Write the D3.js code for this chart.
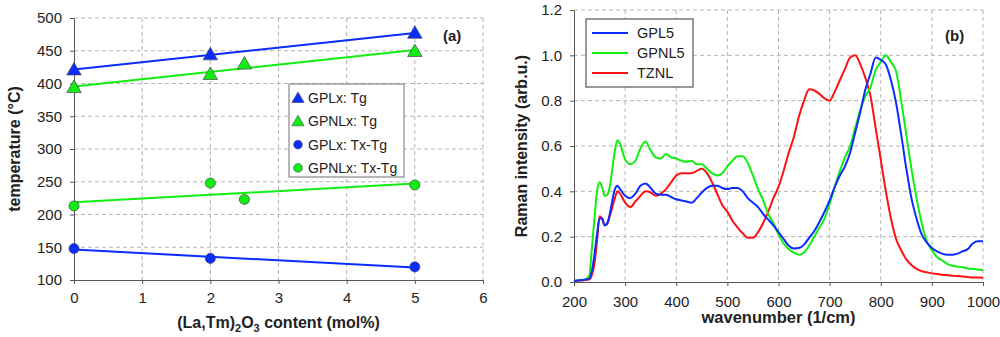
<!DOCTYPE html>
<html>
<head>
<meta charset="utf-8">
<script src="https://cdn.jsdelivr.net/npm/d3@7"></script>
<style>
  body { margin: 0; background: #fff; }
  svg { font-family: "Liberation Sans", Arial, sans-serif; }
  .grid line { stroke: #b4b4b4; stroke-dasharray: 4,3; }
  .axis path, .axis line { stroke: #555; }
  .axis text { font-size: 15px; fill: #222; }
</style>
</head>
<body>
<div id="chart"></div>
<script>
// ---- panel (a): glass temperatures vs (La,Tm)2O3 content ----
const gplX = [0, 2, 5];
const gplTg = [421, 444, 477];
const gplTxTg = [148, 133, 120];
const gpnlX = [0, 2, 2.5, 5];
const gpnlTg = [394, 414, 430, 449];
const gpnlTxTg = [213, 248, 223, 245];
const tempTicks = [100, 150, 200, 250, 300, 350, 400, 450, 500];
const contentTicks = [0, 1, 2, 3, 4, 5, 6];

// ---- panel (b): Raman spectra ----
const wavenumber = [200, 210, 220, 230, 235, 240, 245, 250, 255, 260, 265, 270, 275, 280, 285, 290,
  300, 310, 320, 330, 340, 350, 360, 370, 380, 390, 400, 410, 420, 430, 440, 450, 460, 470, 480, 490,
  500, 510, 520, 530, 540, 550, 560, 570, 580, 590, 600, 610, 620, 630, 640, 650, 660, 670, 680, 690,
  700, 710, 720, 730, 740, 750, 760, 770, 780, 790, 800, 810, 820, 830, 840, 850, 860, 870, 880, 890,
  900, 910, 920, 930, 940, 950, 960, 970, 980, 990, 1000];
const gpl5 = [0.005, 0.008, 0.01, 0.015, 0.05, 0.12, 0.21, 0.28, 0.28, 0.25, 0.26, 0.30, 0.36, 0.41, 0.425, 0.41,
  0.38, 0.37, 0.39, 0.425, 0.435, 0.415, 0.39, 0.385, 0.385, 0.375, 0.365, 0.36, 0.355, 0.35, 0.37, 0.395, 0.415, 0.425, 0.425, 0.415,
  0.41, 0.415, 0.415, 0.40, 0.37, 0.35, 0.33, 0.30, 0.275, 0.25, 0.22, 0.19, 0.16, 0.148, 0.15, 0.165, 0.195, 0.225, 0.265, 0.31,
  0.36, 0.42, 0.47, 0.51, 0.57, 0.66, 0.75, 0.85, 0.92, 0.99, 0.98, 0.96, 0.89, 0.79, 0.65, 0.50, 0.37, 0.28, 0.21, 0.175,
  0.15, 0.135, 0.125, 0.12, 0.12, 0.125, 0.135, 0.145, 0.17, 0.18, 0.18];
const gpnl5 = [0.005, 0.008, 0.01, 0.03, 0.15, 0.28, 0.40, 0.44, 0.42, 0.38, 0.385, 0.42, 0.50, 0.58, 0.625, 0.61,
  0.54, 0.52, 0.535, 0.59, 0.62, 0.58, 0.55, 0.545, 0.565, 0.55, 0.545, 0.535, 0.53, 0.535, 0.52, 0.52, 0.50, 0.48, 0.47, 0.48,
  0.51, 0.535, 0.555, 0.555, 0.525, 0.47, 0.41, 0.36, 0.30, 0.26, 0.21, 0.17, 0.145, 0.13, 0.12, 0.13, 0.16, 0.20, 0.24, 0.28,
  0.345, 0.42, 0.49, 0.55, 0.60, 0.68, 0.76, 0.82, 0.86, 0.935, 0.97, 1.0, 0.97, 0.93, 0.80, 0.65, 0.50, 0.37, 0.26, 0.18,
  0.14, 0.11, 0.095, 0.08, 0.072, 0.068, 0.065, 0.06, 0.058, 0.055, 0.053];
const tznl = [0.003, 0.005, 0.008, 0.012, 0.03, 0.08, 0.18, 0.29, 0.28, 0.25, 0.255, 0.29, 0.33, 0.37, 0.40, 0.39,
  0.35, 0.33, 0.355, 0.38, 0.40, 0.395, 0.38, 0.39, 0.41, 0.44, 0.47, 0.48, 0.48, 0.48, 0.49, 0.50, 0.48, 0.44, 0.39, 0.34,
  0.31, 0.27, 0.24, 0.215, 0.195, 0.195, 0.22, 0.26, 0.31, 0.37, 0.42, 0.49, 0.57, 0.64, 0.73, 0.80, 0.85, 0.845, 0.83, 0.81,
  0.80, 0.84, 0.89, 0.94, 0.99, 1.0, 0.96, 0.90, 0.82, 0.68, 0.54, 0.40, 0.28, 0.19, 0.14, 0.10, 0.075, 0.058, 0.048, 0.043,
  0.038, 0.035, 0.032, 0.03, 0.028, 0.026, 0.024, 0.022, 0.02, 0.02, 0.019];
const ramanTicks = [0, 0.2, 0.4, 0.6, 0.8, 1.0, 1.2];
const waveTicks = [200, 300, 400, 500, 600, 700, 800, 900, 1000];

const BLUE = "#0a2cff", GREEN = "#11ee11", RED = "#ff1010";

const svg = d3.select("#chart").append("svg")
  .attr("width", 1000).attr("height", 337);

// least squares fit for the trend lines
function fit(xs, ys) {
  const mx = d3.mean(xs), my = d3.mean(ys);
  let sxy = 0, sxx = 0;
  xs.forEach((x, i) => { sxy += (x - mx) * (ys[i] - my); sxx += (x - mx) * (x - mx); });
  const b = sxy / sxx;
  return x => my + b * (x - mx);
}

function drawFrame(g, x, y, xTicks, yTicks, yFmt, w, h, xPad) {
  g.append("g").attr("class", "grid")
    .selectAll("line.h").data(yTicks.slice(1)).join("line")
    .attr("x1", 0).attr("x2", w).attr("y1", d => y(d)).attr("y2", d => y(d));
  g.append("g").attr("class", "grid")
    .selectAll("line.v").data(xTicks.slice(1)).join("line")
    .attr("x1", d => x(d)).attr("x2", d => x(d)).attr("y1", 0).attr("y2", h);
  g.append("g").attr("class", "axis")
    .attr("transform", `translate(0,${h})`)
    .call(d3.axisBottom(x).tickValues(xTicks).tickFormat(d3.format("d")).tickSize(4).tickSizeOuter(0).tickPadding(xPad));
  g.append("g").attr("class", "axis")
    .call(d3.axisLeft(y).tickValues(yTicks).tickFormat(yFmt).tickSize(4).tickSizeOuter(0).tickPadding(8));
}

// ================= panel (a) =================
const a = { left: 74, top: 18, w: 409, h: 262 };
const ga = svg.append("g").attr("transform", `translate(${a.left},${a.top})`);
const xa = d3.scaleLinear().domain([0, 6]).range([0, a.w]);
const ya = d3.scaleLinear().domain([100, 500]).range([a.h, 0]);
drawFrame(ga, xa, ya, contentTicks, tempTicks, d3.format("d"), a.w, a.h, 8);

const seriesA = [
  { name: "GPLx: Tg", xs: gplX, ys: gplTg, color: BLUE, shape: d3.symbolTriangle },
  { name: "GPNLx: Tg", xs: gpnlX, ys: gpnlTg, color: GREEN, shape: d3.symbolTriangle },
  { name: "GPLx: Tx-Tg", xs: gplX, ys: gplTxTg, color: BLUE, shape: d3.symbolCircle },
  { name: "GPNLx: Tx-Tg", xs: gpnlX, ys: gpnlTxTg, color: GREEN, shape: d3.symbolCircle }
];

seriesA.forEach(s => {
  const f = fit(s.xs, s.ys);
  ga.append("line")
    .attr("x1", xa(0)).attr("x2", xa(5))
    .attr("y1", ya(f(0))).attr("y2", ya(f(5)))
    .attr("stroke", s.color).attr("stroke-width", 2);
});
seriesA.forEach(s => {
  const sym = d3.symbol().type(s.shape).size(s.shape === d3.symbolCircle ? 80 : 90);
  ga.selectAll(null).data(s.xs.map((x, i) => [x, s.ys[i]])).join("path")
    .attr("d", sym)
    .attr("transform", d => `translate(${xa(d[0])},${ya(d[1]) + (s.shape === d3.symbolTriangle ? 1 : 0)})`)
    .attr("fill", s.color).attr("stroke", "#445").attr("stroke-width", 0.7);
});

// legend (a)
const la = svg.append("g").attr("transform", "translate(289,84)");
la.append("rect").attr("width", 115).attr("height", 93)
  .attr("fill", "#fff").attr("stroke", "#888").attr("stroke-width", 1.2);
seriesA.forEach((s, i) => {
  const yy = 14 + i * 23.3;
  la.append("path")
    .attr("d", d3.symbol().type(s.shape).size(s.shape === d3.symbolCircle ? 60 : 65))
    .attr("transform", `translate(9,${yy + (s.shape === d3.symbolTriangle ? 1 : 0)})`)
    .attr("fill", s.color).attr("stroke", "#445").attr("stroke-width", 0.6);
  la.append("text").attr("x", 19).attr("y", yy + 5)
    .attr("font-size", 14).attr("fill", "#222").text(s.name);
});

svg.append("text").attr("x", 443).attr("y", 41)
  .attr("font-size", 15).attr("font-weight", "bold").attr("fill", "#222").text("(a)");

svg.append("text")
  .attr("transform", `translate(20,${a.top + a.h / 2}) rotate(-90)`)
  .attr("text-anchor", "middle").attr("font-size", 16).attr("font-weight", "bold").attr("fill", "#222")
  .text("temperature (°C)");

const xTitleA = svg.append("text")
  .attr("x", a.left + a.w / 2).attr("y", 328)
  .attr("text-anchor", "middle").attr("font-size", 16).attr("font-weight", "bold").attr("fill", "#222");
xTitleA.append("tspan").text("(La,Tm)");
xTitleA.append("tspan").attr("font-size", 11).attr("dy", 4).text("2");
xTitleA.append("tspan").attr("dy", -4).text("O");
xTitleA.append("tspan").attr("font-size", 11).attr("dy", 4).text("3");
xTitleA.append("tspan").attr("dy", -4).text(" content (mol%)");

// ================= panel (b) =================
const b = { left: 574, top: 10, w: 409, h: 272 };
const gb = svg.append("g").attr("transform", `translate(${b.left},${b.top})`);
const xb = d3.scaleLinear().domain([200, 1000]).range([0, b.w]);
const yb = d3.scaleLinear().domain([0, 1.2]).range([b.h, 0]);
drawFrame(gb, xb, yb, waveTicks, ramanTicks, d3.format(".1f"), b.w, b.h, 10);

const seriesB = [
  { name: "GPL5", values: gpl5, color: BLUE },
  { name: "GPNL5", values: gpnl5, color: GREEN },
  { name: "TZNL", values: tznl, color: RED }
];
const lineB = d3.line().x(d => xb(d[0])).y(d => yb(d[1])).curve(d3.curveMonotoneX);
seriesB.slice().reverse().forEach(s => {
  gb.append("path")
    .attr("d", lineB(wavenumber.map((w, i) => [w, s.values[i]])))
    .attr("fill", "none").attr("stroke", s.color).attr("stroke-width", 2);
});

const lb = svg.append("g").attr("transform", "translate(586,19)");
lb.append("rect").attr("width", 107).attr("height", 68)
  .attr("fill", "#fff").attr("stroke", "#555").attr("stroke-width", 1.2);
seriesB.forEach((s, i) => {
  const yy = 14 + i * 20;
  lb.append("line").attr("x1", 6).attr("x2", 42).attr("y1", yy).attr("y2", yy)
    .attr("stroke", s.color).attr("stroke-width", 2);
  lb.append("text").attr("x", 51).attr("y", yy + 5)
    .attr("font-size", 14.5).attr("fill", "#222").text(s.name);
});

svg.append("text").attr("x", 945).attr("y", 41)
  .attr("font-size", 15).attr("font-weight", "bold").attr("fill", "#222").text("(b)");

svg.append("text")
  .attr("transform", `translate(527,${b.top + b.h / 2}) rotate(-90)`)
  .attr("text-anchor", "middle").attr("font-size", 16).attr("font-weight", "bold").attr("fill", "#222")
  .text("Raman intensity (arb.u.)");

svg.append("text")
  .attr("x", b.left + b.w / 2).attr("y", 323)
  .attr("text-anchor", "middle").attr("font-size", 16.5).attr("font-weight", "bold").attr("fill", "#222")
  .text("wavenumber (1/cm)");
</script>
</body>
</html>
